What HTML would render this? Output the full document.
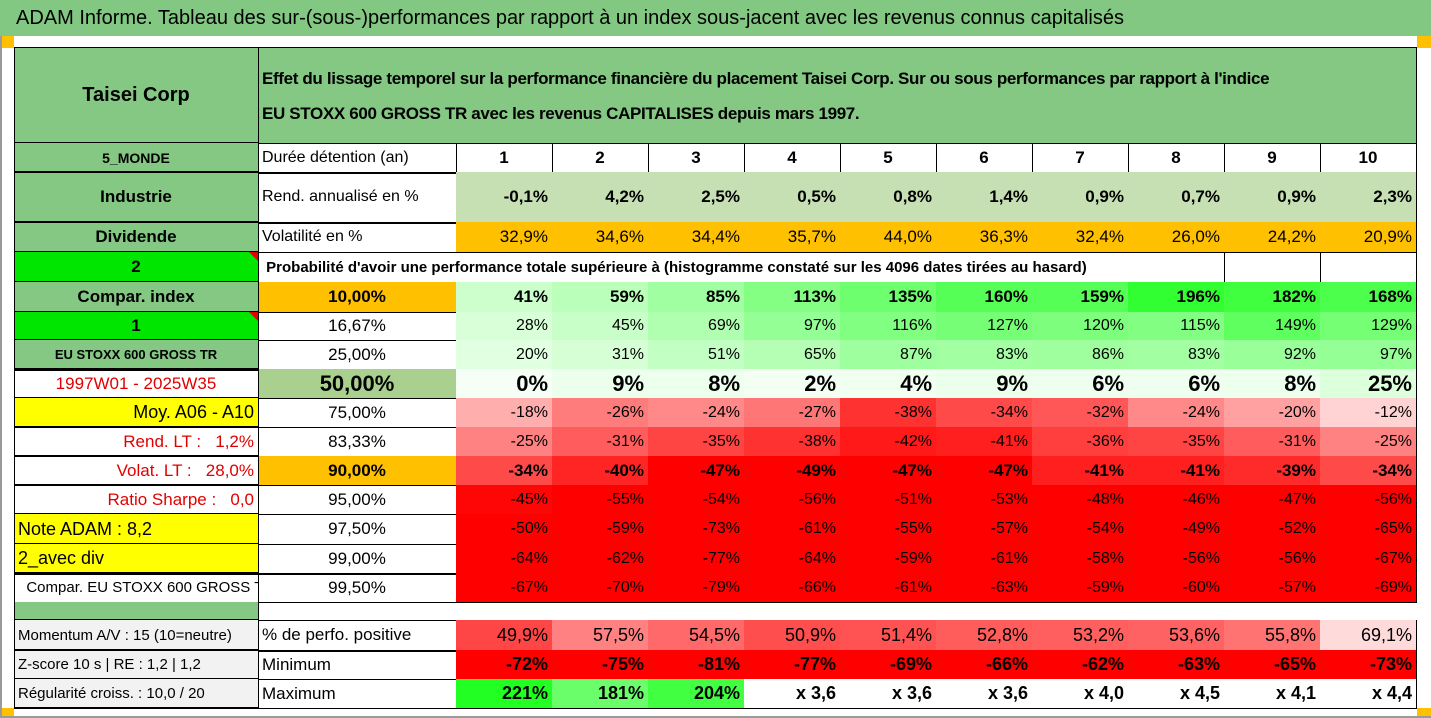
<!DOCTYPE html>
<html><head><meta charset="utf-8">
<style>
html,body{margin:0;padding:0;}
body{width:1431px;height:718px;position:relative;background:#fff;overflow:hidden;
font-family:"Liberation Sans Narrow","Liberation Sans",sans-serif;color:#000;}
.c{position:absolute;box-sizing:border-box;border-right:1px solid #000;border-bottom:1px solid #000;
display:flex;align-items:center;white-space:nowrap;overflow:hidden;font-size:16px;padding:0 4px;}
.r{justify-content:flex-end;}
.m{justify-content:center;}
.l{justify-content:flex-start;}
.b{font-weight:bold;}
.tri{position:absolute;right:0;top:0;width:0;height:0;border-left:9px solid transparent;border-top:9px solid #e00000;}
.ln{position:absolute;background:#000;z-index:5;}
</style></head>
<body>
<div style="position:absolute;left:0;top:0;width:1431px;height:36px;background:#82c882;font-size:20px;line-height:36px;padding-left:16px;box-sizing:border-box;">ADAM Informe. Tableau des sur-(sous-)performances par rapport à un index sous-jacent avec les revenus connus capitalisés</div>
<div style="position:absolute;left:0;top:36px;width:14px;height:12px;background:#ffc000;"></div>
<div style="position:absolute;left:1417px;top:36px;width:14px;height:12px;background:#ffc000;"></div>
<div style="position:absolute;left:0;top:708px;width:14px;height:10px;background:#ffc000;"></div>
<div style="position:absolute;left:1417px;top:708px;width:14px;height:10px;background:#ffc000;"></div>
<div style="position:absolute;left:0;top:36px;width:2px;height:682px;background:#9a9a9a;"></div>
<div style="position:absolute;left:0;top:716px;width:1431px;height:2px;background:#9a9a9a;"></div>
<div style="position:absolute;left:14px;top:47px;width:1403px;height:1px;background:#000;"></div>
<div style="position:absolute;left:14px;top:47px;width:1px;height:662px;background:#000;z-index:5;"></div>
<div id="grid"></div>
<script>
// Data arrays
const horizons = ["1","2","3","4","5","6","7","8","9","10"];
const rendAnnualise = ["-0,1%","4,2%","2,5%","0,5%","0,8%","1,4%","0,9%","0,7%","0,9%","2,3%"];
const volatilite = ["32,9%","34,6%","34,4%","35,7%","44,0%","36,3%","32,4%","26,0%","24,2%","20,9%"];
const quantiles = ["10,00%","16,67%","25,00%","50,00%","75,00%","83,33%","90,00%","95,00%","97,50%","99,00%","99,50%"];
const q10 = [41,59,85,113,135,160,159,196,182,168];
const q1667 = [28,45,69,97,116,127,120,115,149,129];
const q25 = [20,31,51,65,87,83,86,83,92,97];
const q50 = [0,9,8,2,4,9,6,6,8,25];
const q75 = [-18,-26,-24,-27,-38,-34,-32,-24,-20,-12];
const q8333 = [-25,-31,-35,-38,-42,-41,-36,-35,-31,-25];
const q90 = [-34,-40,-47,-49,-47,-47,-41,-41,-39,-34];
const q95 = [-45,-55,-54,-56,-51,-53,-48,-46,-47,-56];
const q975 = [-50,-59,-73,-61,-55,-57,-54,-49,-52,-65];
const q99 = [-64,-62,-77,-64,-59,-61,-58,-56,-56,-67];
const q995 = [-67,-70,-79,-66,-61,-63,-59,-60,-57,-69];
const pctPositive = [49.9,57.5,54.5,50.9,51.4,52.8,53.2,53.6,55.8,69.1];
const minimum = [-72,-75,-81,-77,-69,-66,-62,-63,-65,-73];
const maximum = ["221%","181%","204%","x 3,6","x 3,6","x 3,6","x 4,0","x 4,5","x 4,1","x 4,4"];
const maxValues = [221,181,204,null,null,null,null,null,null,null];

const grid = document.getElementById('grid');
const colX = [14,258,456,552,648,744,840,936,1032,1128,1224,1320,1416];
const rowY = [48,143,172,222,252,282,312,340,369,398,427,456,485,514,544,573,602,620,650,679,708];
const thick = {172:1,222:1,369:1,573:1,650:1};

function cell(c0,c1,r0,r1,text,cls,style,name,inter){
  const d=document.createElement('div');
  d.className='c '+(cls||'');
  if(style) d.setAttribute('style',style);
  d.style.left=colX[c0]+'px'; d.style.width=(colX[c1]-colX[c0]+1)+'px';
  d.style.top=rowY[r0]+'px'; d.style.height=(rowY[r1]-rowY[r0]+(thick[rowY[r1]]?2:1))+'px';
  if(thick[rowY[r1]]) d.style.borderBottomWidth='2px';
  d.innerHTML=text;
  
  
  grid.appendChild(d);
  return d;
}
const G='#84c884', BG='#00e600', Y='#ffff00', O='#ffc000', GR='#f2f2f2';
function pctStr(v){return v+'%';}
function greenCol(v){const k=Math.round(Math.max(40,Math.min(248,245-v*1.0)));return 'rgb('+k+',255,'+k+')';}
function redCol(v){const k=Math.round(Math.max(0,Math.min(215,(v+46)*6.2)));return 'rgb(255,'+k+','+k+')';}
function posCol(v){const k=Math.round(Math.max(0,Math.min(218,70+(v-49.9)*7.7)));return 'rgb(255,'+k+','+k+')';}
function maxCol(v){if(v==null)return '#fff';const k=Math.round(Math.max(0,Math.min(240,(240-v)*1.8)));return 'rgb('+k+',255,'+k+')';}

// Column A
cell(0,1,0,1,'Taisei Corp','m b','background:'+G+';font-size:20px;','company-name',false);
cell(1,12,0,1,'<div style="line-height:35px;letter-spacing:-0.35px;">Effet du lissage temporel sur la performance financière du placement Taisei Corp. Sur ou sous performances par rapport à l\'indice<br>EU STOXX 600 GROSS TR avec les revenus CAPITALISES depuis mars 1997.</div>','l b','background:'+G+';font-size:17px;','header-description',false);
cell(0,1,1,2,'5_MONDE','m b','background:'+G+';font-size:14px;','region-label',false);
cell(0,1,2,3,'Industrie','m b','background:'+G+';font-size:17px;','sector-label',false);
cell(0,1,3,4,'Dividende','m b','background:'+G+';font-size:17px;','dividend-label',false);
let t=cell(0,1,4,5,'2','m b','background:'+BG+';font-size:17px;','selector-2',true); t.insertAdjacentHTML('beforeend','<span class="tri"></span>');
cell(0,1,5,6,'Compar. index','m b','background:'+G+';font-size:17px;','compar-index-label',false);
t=cell(0,1,6,7,'1','m b','background:'+BG+';font-size:17px;','selector-1',true); t.insertAdjacentHTML('beforeend','<span class="tri"></span>');
cell(0,1,7,8,'EU STOXX 600 GROSS TR','m b','background:'+G+';font-size:13px;','index-name',false);
cell(0,1,8,9,'1997W01 - 2025W35','m','color:#e00000;font-size:17px;','period-label',false);
cell(0,1,9,10,'Moy. A06 - A10','r','background:'+Y+';font-size:18px;','average-label',false);
cell(0,1,10,11,'Rend. LT :&nbsp;&nbsp; 1,2%','r','color:#e00000;font-size:17px;','long-term-return',false);
cell(0,1,11,12,'Volat. LT :&nbsp;&nbsp; 28,0%','r','color:#e00000;font-size:17px;','long-term-volatility',false);
cell(0,1,12,13,'Ratio Sharpe :&nbsp;&nbsp; 0,0','r','color:#e00000;font-size:17px;','sharpe-ratio',false);
cell(0,1,13,14,'Note ADAM : 8,2','l','background:'+Y+';font-size:18px;','adam-score',false);
cell(0,1,14,15,'2_avec div','l','background:'+Y+';font-size:18px;','dividend-mode',false);
cell(0,1,15,16,'&nbsp;&nbsp;Compar. EU STOXX 600 GROSS TR','l','font-size:15px;','comparison-label',false);
cell(0,1,16,17,'','','background:'+G+';border-bottom:none;','spacer-green',false);
cell(1,12,16,17,'','','border-right:none;','spacer-white',false);
cell(0,1,17,18,'Momentum A/V : 15 (10=neutre)','l','background:'+GR+';font-size:15px;','momentum-label',false);
cell(0,1,18,19,'Z-score 10 s | RE : 1,2 | 1,2','l','background:'+GR+';font-size:15px;','zscore-label',false);
cell(0,1,19,20,'Régularité croiss. : 10,0 / 20','l','background:'+GR+';font-size:15px;','regularity-label',false);

// Column B labels
cell(1,2,1,2,'Durée détention (an)','l','font-size:16px;','holding-period-label',false);
cell(1,2,2,3,'Rend. annualisé en %','l','font-size:16px;','annual-return-label',false);
cell(1,2,3,4,'Volatilité en %','l','font-size:16px;','volatility-label',false);
cell(1,10,4,5,'&nbsp;Probabilité d\'avoir une performance totale supérieure à (histogramme constaté sur les 4096 dates tirées au hasard)','l b','font-size:15px;','probability-caption',false);
cell(10,11,4,5,'','','','blank-cell-9',false);
cell(11,12,4,5,'','','','blank-cell-10',false);
const qStyles=['background:'+O+';','','','background:#a9d08e;font-size:22px;','','','background:'+O+';','','','',''];
for(let i=0;i<quantiles.length;i++){
  cell(1,2,5+i,6+i,quantiles[i],'m'+(i==0||i==3||i==6?' b':''),'font-size:17px;'+qStyles[i],'quantile-'+i,false);
}
cell(1,2,17,18,'% de perfo. positive','l','font-size:17px;','positive-perf-label',false);
cell(1,2,18,19,'Minimum','l','font-size:17px;','minimum-label',false);
cell(1,2,19,20,'Maximum','l','font-size:17px;','maximum-label',false);

// Data columns
const qRows=[q10,q1667,q25,q50,q75,q8333,q90,q95,q975,q99,q995];
for(let j=0;j<10;j++){
  const c=2+j;
  cell(c,c+1,1,2,horizons[j],'m b','font-size:17px;','horizon-'+horizons[j],false);
  cell(c,c+1,2,3,rendAnnualise[j],'r b','background:#c6e0b4;font-size:17px;','annual-return-'+horizons[j],false);
  cell(c,c+1,3,4,volatilite[j],'r','background:'+O+';font-size:17px;','volatility-'+horizons[j],false);
  for(let i=0;i<qRows.length;i++){
    const v=qRows[i][j];
    const col=v>=0?greenCol(v):redCol(v);
    let fs=16, b='';
    if(i==0){fs=17;b=' b';}
    if(i==3){fs=22;b=' b';}
    if(i==6){fs=17;b=' b';}
    cell(c,c+1,5+i,6+i,pctStr(v),'r'+b,'background:'+col+';font-size:'+fs+'px;','quantile-'+i+'-h'+horizons[j],false);
  }
  cell(c,c+1,17,18,pctPositive[j].toFixed(1).replace('.',',')+'%','r','background:'+posCol(pctPositive[j])+';font-size:18px;','positive-perf-'+horizons[j],false);
  cell(c,c+1,18,19,pctStr(minimum[j]),'r b','background:#ff0000;font-size:18px;','minimum-'+horizons[j],false);
  cell(c,c+1,19,20,maximum[j],'r b','background:'+maxCol(maxValues[j])+';font-size:18px;','maximum-'+horizons[j],false);
}

// explicit grid lines for column A
for(let i=0;i<rowY.length;i++){
  if(i===16) continue;
  const y=rowY[i];
  const l=document.createElement('div');
  l.className='ln';
  l.style.left='14px'; l.style.width='245px';
  l.style.top=(y-1)+'px'; l.style.height=(thick[y]?2:1)+'px';
  
  
  grid.appendChild(l);
}
const vl=document.createElement('div');
vl.className='ln';
vl.style.left='258px'; vl.style.width='1px'; vl.style.top='47px'; vl.style.height='662px';


grid.appendChild(vl);
</script>
</body></html>
